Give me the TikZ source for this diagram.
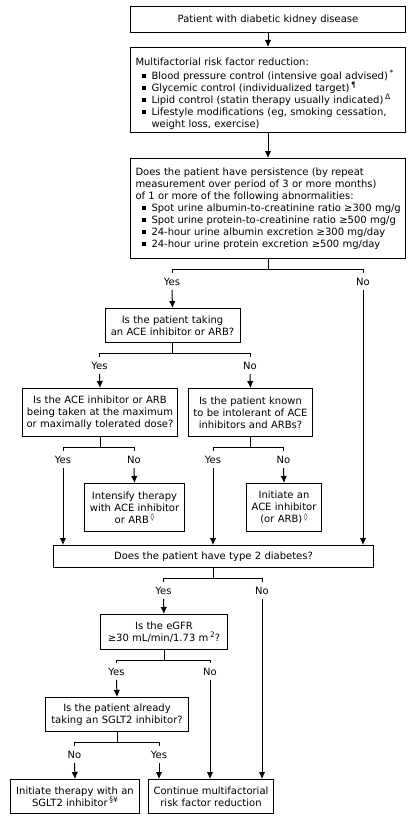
\documentclass[tikz,border=0pt]{standalone}
\usepackage{fontspec}
\setmainfont{DejaVu Sans}
\usetikzlibrary{arrows.meta,calc}
\newcommand\bitem[1]{\par\noindent\makebox[16pt][l]{\hspace{6pt}\rule[1.5pt]{4pt}{4pt}}\parbox[t]{252pt}{\raggedright #1}}
\newcommand\sps[1]{\raisebox{3.5pt}{\fontsize{7.5}{8}\selectfont #1}}
\begin{document}
\begin{tikzpicture}[x=1pt,y=-1pt,
  every node/.style={font=\fontsize{10}{12}\selectfont},
  box/.style={draw, line width=1pt, anchor=north west, inner xsep=3pt, inner ysep=1pt, align=center},
  lbox/.style={draw, line width=1pt, anchor=north west, inner xsep=5pt, inner ysep=1pt, align=left, text width=265pt},
  lab/.style={inner sep=0pt, text height=7.5pt, text depth=2pt},
  ln/.style={line width=1pt},
  arr/.style={line width=1pt, -{Latex[length=7pt,width=6.5pt]}}]
\useasboundingbox (0,0) rectangle (418,824);
% boxes
\node[box, text width=269pt, minimum height=26pt] (b1) at (130,6) {Patient with diabetic kidney disease};
\node[lbox, minimum height=85pt] (b2) at (130,47) {\rule{0pt}{15pt}Multifactorial risk factor reduction:\par\vspace{2pt}
\bitem{Blood pressure control (intensive goal advised)\,\sps{*}}
\bitem{Glycemic control (individualized target)\,\sps{¶}}
\bitem{Lipid control (statin therapy usually indicated)\,\sps{Δ}}
\bitem{Lifestyle modifications (eg, smoking cessation,\\ weight loss, exercise)}};
\node[lbox, minimum height=100pt] (b3) at (130,158) {Does the patient have persistence (by repeat\newline measurement over period of 3 or more months)\newline of 1 or more of the following abnormalities:
\bitem{Spot urine albumin-to-creatinine ratio ≥300 mg/g}
\bitem{Spot urine protein-to-creatinine ratio ≥500 mg/g}
\bitem{24-hour urine albumin excretion ≥300 mg/day}
\bitem{24-hour urine protein excretion ≥500 mg/day}};
\node[box, text width=129pt, minimum height=34pt] (b4) at (104.5,308) {Is the patient taking\\an ACE inhibitor or ARB?};
\node[box, text width=149pt, minimum height=48pt] (b5) at (22,388) {Is the ACE inhibitor or ARB\\being taken at the maximum\\or maximally tolerated dose?};
\node[box, text width=118pt, minimum height=48pt] (b6) at (188,388) {Is the patient known\\to be intolerant of ACE\\inhibitors and ARBs?};
\node[box, text width=94pt, minimum height=48pt] (b7) at (84,483) {Intensify therapy\\with ACE inhibitor\\or ARB\,\sps{◊}};
\node[box, text width=69pt, minimum height=48pt] (b8) at (246,483) {Initiate an\\ACE inhibitor\\(or ARB)\,\sps{◊}};
\node[box, text width=314pt, minimum height=22pt] (b9) at (53,545) {Does the patient have type 2 diabetes?};
\node[box, text width=121pt, minimum height=35pt] (b10) at (100,614) {Is the eGFR\\≥30 mL/min/1.73 m\,\sps{2}?};
\node[box, text width=137pt, minimum height=34pt] (b11) at (45,697) {Is the patient already\\taking an SGLT2 inhibitor?};
\node[box, text width=123pt, minimum height=34pt] (b12) at (10,779) {Initiate therapy with an\\SGLT2 inhibitor\,\sps{§¥}};
\node[box, text width=119pt, minimum height=34pt] (b13) at (148,779) {Continue multifactorial\\risk factor reduction};
% labels
\node[lab] (y3) at (172,283) {Yes};
\node[lab] (n3) at (363,283) {No};
\node[lab] (y4) at (99.5,367) {Yes};
\node[lab] (n4) at (250,367) {No};
\node[lab] (y5) at (63,461) {Yes};
\node[lab] (n5) at (134,461) {No};
\node[lab] (y6) at (213,461) {Yes};
\node[lab] (n6) at (283.5,461) {No};
\node[lab] (y9) at (163.5,592) {Yes};
\node[lab] (n9) at (262,592) {No};
\node[lab] (y10) at (116.5,673) {Yes};
\node[lab] (n10) at (210,673) {No};
\node[lab] (n11) at (74.5,756) {No};
\node[lab] (y11) at (159,756) {Yes};
% connectors
\draw[arr] (b1.south) -- (b2.north);
\draw[arr] (b2.south) -- (b3.north);
% branch 3
\draw[ln] (b3.south) -- ++(0,10) coordinate (j3);
\draw[ln] ($(y3.north)+(0,-5)$) -- (y3.north |- j3) -- (n3.north |- j3) -- ($(n3.north)+(0,-5)$);
\draw[arr] ($(y3.south)+(0,2)$) -- (b4.north);
\draw[arr] ($(n3.south)+(0,2)$) -- (n3.south |- b9.north);
% branch 4
\draw[ln] (b4.south) -- ++(0,10) coordinate (j4);
\draw[ln] ($(y4.north)+(0,-5)$) -- (y4.north |- j4) -- (n4.north |- j4) -- ($(n4.north)+(0,-5)$);
\draw[arr] ($(y4.south)+(0,2)$) -- (b5.north);
\draw[arr] ($(n4.south)+(0,2)$) -- (b6.north);
% branch 5
\draw[ln] (b5.south) -- ++(0,10) coordinate (j5);
\draw[ln] ($(y5.north)+(0,-5)$) -- (y5.north |- j5) -- (n5.north |- j5) -- ($(n5.north)+(0,-5)$);
\draw[arr] ($(y5.south)+(0,2)$) -- (y5.south |- b9.north);
\draw[arr] ($(n5.south)+(0,2)$) -- (b7.north);
% branch 6
\draw[ln] (b6.south) -- ++(0,10) coordinate (j6);
\draw[ln] ($(y6.north)+(0,-5)$) -- (y6.north |- j6) -- (n6.north |- j6) -- ($(n6.north)+(0,-5)$);
\draw[arr] ($(y6.south)+(0,2)$) -- (y6.south |- b9.north);
\draw[arr] ($(n6.south)+(0,2)$) -- (b8.north);
% branch 9
\draw[ln] (b9.south) -- ++(0,10) coordinate (j9);
\draw[ln] ($(y9.north)+(0,-5)$) -- (y9.north |- j9) -- (n9.north |- j9) -- ($(n9.north)+(0,-5)$);
\draw[arr] ($(y9.south)+(0,2)$) -- (b10.north);
\draw[arr] ($(n9.south)+(0,2)$) -- (n9.south |- b13.north);
% branch 10
\draw[ln] (b10.south) -- ++(0,10) coordinate (j10);
\draw[ln] ($(y10.north)+(0,-5)$) -- (y10.north |- j10) -- (n10.north |- j10) -- ($(n10.north)+(0,-5)$);
\draw[arr] ($(y10.south)+(0,2)$) -- (b11.north);
\draw[arr] ($(n10.south)+(0,2)$) -- (n10.south |- b13.north);
% branch 11
\draw[ln] (b11.south) -- ++(0,10) coordinate (j11);
\draw[ln] ($(n11.north)+(0,-5)$) -- (n11.north |- j11) -- (y11.north |- j11) -- ($(y11.north)+(0,-5)$);
\draw[arr] ($(n11.south)+(0,2)$) -- (b12.north);
\draw[arr] ($(y11.south)+(0,2)$) -- (y11.south |- b13.north);
\end{tikzpicture}
\end{document}
